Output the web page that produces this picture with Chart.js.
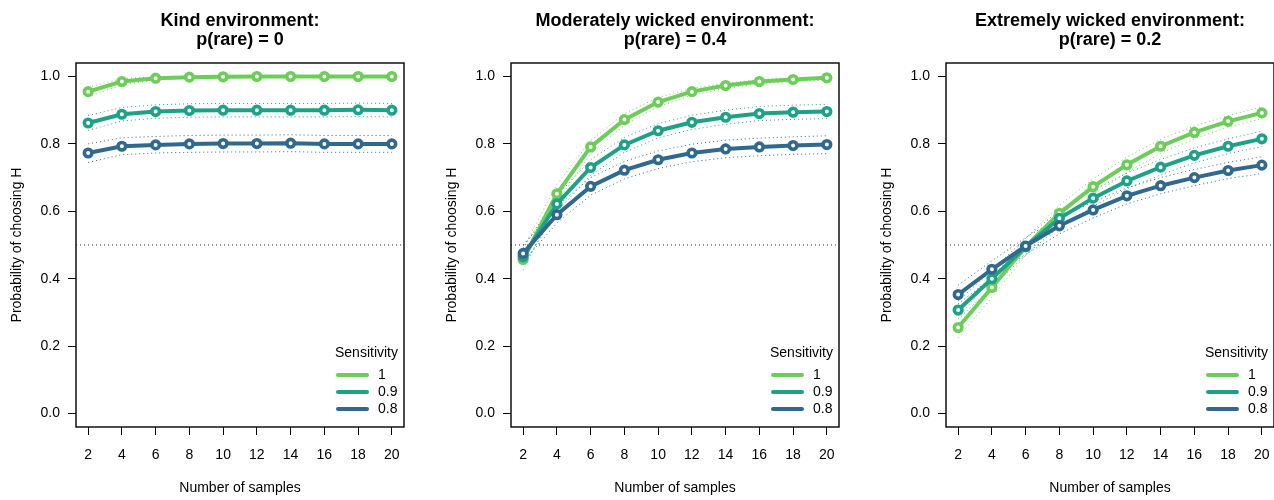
<!DOCTYPE html>
<html>
<head>
<meta charset="utf-8">
<script src="https://cdn.jsdelivr.net/npm/chart.js@4.4.1/dist/chart.umd.min.js"></script>
<style>
  body { margin: 0; background: #fff; width: 1274px; height: 500px; overflow: hidden; position: relative; }
  .panel { position: absolute; top: 0; width: 435px; height: 500px; }
</style>
</head>
<body>
<div class="panel" style="left:0"><canvas id="kindChart" width="435" height="500"></canvas></div>
<div class="panel" style="left:435px"><canvas id="moderateChart" width="435" height="500"></canvas></div>
<div class="panel" style="left:870px"><canvas id="extremeChart" width="435" height="500"></canvas></div>
<script>
const samples = [2, 4, 6, 8, 10, 12, 14, 16, 18, 20];
const xTicks = [2, 4, 6, 8, 10, 12, 14, 16, 18, 20];
const yTicks = [0, 0.2, 0.4, 0.6, 0.8, 1.0];
const sensitivities = ['1', '0.9', '0.8'];
const COLORS = ['#6ccd5a', '#1fa187', '#31688e'];

// Kind environment: p(rare) = 0
const kind1 = [0.955, 0.985, 0.995, 0.998, 0.999, 1.0, 1.0, 1.0, 1.0, 1.0];
const kind1Lo = [0.940, 0.975, 0.990, 0.995, 0.997, 0.998, 0.998, 0.998, 0.998, 0.998];
const kind1Hi = [0.968, 0.994, 0.999, 1.0, 1.0, 1.0, 1.0, 1.0, 1.0, 1.0];
const kind09 = [0.862, 0.888, 0.896, 0.899, 0.900, 0.900, 0.900, 0.900, 0.901, 0.900];
const kind09Lo = [0.840, 0.868, 0.876, 0.879, 0.880, 0.880, 0.880, 0.880, 0.881, 0.880];
const kind09Hi = [0.884, 0.908, 0.916, 0.919, 0.920, 0.920, 0.920, 0.920, 0.921, 0.920];
const kind08 = [0.773, 0.793, 0.797, 0.800, 0.801, 0.801, 0.802, 0.800, 0.800, 0.800];
const kind08Lo = [0.745, 0.768, 0.773, 0.775, 0.776, 0.776, 0.777, 0.775, 0.775, 0.775];
const kind08Hi = [0.800, 0.818, 0.822, 0.825, 0.826, 0.826, 0.827, 0.825, 0.825, 0.825];

// Moderately wicked environment: p(rare) = 0.4
const mod1 = [0.457, 0.652, 0.791, 0.872, 0.924, 0.955, 0.973, 0.985, 0.991, 0.996];
const mod1Lo = [0.425, 0.625, 0.770, 0.855, 0.910, 0.945, 0.965, 0.978, 0.985, 0.990];
const mod1Hi = [0.490, 0.680, 0.810, 0.890, 0.938, 0.965, 0.980, 0.990, 0.996, 0.999];
const mod09 = [0.465, 0.622, 0.730, 0.797, 0.839, 0.864, 0.879, 0.890, 0.894, 0.896];
const mod09Lo = [0.440, 0.598, 0.707, 0.775, 0.818, 0.843, 0.858, 0.869, 0.873, 0.875];
const mod09Hi = [0.490, 0.646, 0.753, 0.819, 0.860, 0.885, 0.900, 0.911, 0.915, 0.917];
const mod08 = [0.475, 0.590, 0.674, 0.722, 0.753, 0.773, 0.785, 0.791, 0.795, 0.798];
const mod08Lo = [0.450, 0.565, 0.648, 0.696, 0.727, 0.747, 0.759, 0.765, 0.769, 0.771];
const mod08Hi = [0.500, 0.615, 0.700, 0.748, 0.779, 0.799, 0.811, 0.817, 0.821, 0.824];

// Extremely wicked environment: p(rare) = 0.2
const ext1 = [0.255, 0.374, 0.495, 0.594, 0.673, 0.738, 0.793, 0.834, 0.867, 0.892];
const ext1Lo = [0.225, 0.345, 0.470, 0.570, 0.650, 0.715, 0.772, 0.815, 0.850, 0.875];
const ext1Hi = [0.285, 0.403, 0.520, 0.618, 0.696, 0.761, 0.814, 0.853, 0.884, 0.910];
const ext09 = [0.307, 0.400, 0.495, 0.579, 0.639, 0.690, 0.731, 0.766, 0.793, 0.815];
const ext09Lo = [0.280, 0.375, 0.470, 0.555, 0.615, 0.667, 0.708, 0.744, 0.771, 0.792];
const ext09Hi = [0.334, 0.425, 0.520, 0.603, 0.663, 0.713, 0.754, 0.788, 0.815, 0.838];
const ext08 = [0.353, 0.428, 0.497, 0.557, 0.604, 0.646, 0.676, 0.700, 0.721, 0.737];
const ext08Lo = [0.325, 0.403, 0.472, 0.533, 0.580, 0.622, 0.652, 0.676, 0.697, 0.712];
const ext08Hi = [0.381, 0.453, 0.522, 0.581, 0.628, 0.670, 0.700, 0.724, 0.745, 0.762];

const FONT = 'Arial, "Liberation Sans", sans-serif';

function toPoints(values) {
  return values.map((v, i) => ({ x: samples[i], y: v }));
}

function meanLine(values, idx) {
  return {
    data: toPoints(values),
    borderColor: COLORS[idx],
    backgroundColor: '#ffffff',
    borderWidth: 4,
    borderCapStyle: 'round',
    pointRadius: 3.8,
    pointBorderWidth: 3.6,
    pointBackgroundColor: '#ffffff',
    pointBorderColor: COLORS[idx],
    tension: 0,
  };
}

function ciLine(values, idx) {
  return {
    data: toPoints(values),
    borderColor: COLORS[idx],
    borderWidth: 1,
    borderDash: [1, 3],
    pointRadius: 0,
    tension: 0,
  };
}

// box around plot, dotted 0.5 line, title, legend
const frame = {
  id: 'frame',
  beforeDatasetsDraw(chart) {
    const { ctx, chartArea: a, scales } = chart;
    const y = scales.y.getPixelForValue(0.5);
    ctx.save();
    ctx.strokeStyle = '#333';
    ctx.lineWidth = 1;
    ctx.setLineDash([1, 3]);
    ctx.beginPath();
    ctx.moveTo(a.left, y);
    ctx.lineTo(a.right, y);
    ctx.stroke();
    ctx.restore();
  },
  afterDraw(chart, args, opts) {
    const { ctx, chartArea: a } = chart;
    ctx.save();
    ctx.strokeStyle = '#000';
    ctx.lineWidth = 1.4;
    ctx.strokeRect(a.left, a.top, a.right - a.left, a.bottom - a.top);

    // title over the plot box
    const cx = (a.left + a.right) / 2;
    ctx.fillStyle = '#000';
    ctx.textAlign = 'center';
    ctx.textBaseline = 'alphabetic';
    ctx.font = 'bold 18px ' + FONT;
    opts.lines.forEach((t, i) => ctx.fillText(t, cx, 26 + i * 19));

    // legend
    const r = a.right, b = a.bottom;
    ctx.font = '14px ' + FONT;
    ctx.textBaseline = 'middle';
    ctx.textAlign = 'right';
    ctx.fillText('Sensitivity', r - 6, b - 74);
    ctx.textAlign = 'left';
    sensitivities.forEach((s, i) => {
      const yy = b - 52 + i * 17;
      ctx.strokeStyle = COLORS[i];
      ctx.lineWidth = 4;
      ctx.lineCap = 'round';
      ctx.beginPath();
      ctx.moveTo(r - 66, yy);
      ctx.lineTo(r - 37, yy);
      ctx.stroke();
      ctx.fillText(s, r - 26, yy);
    });
    ctx.restore();
  }
};

function makeChart(id, titleLines, s1, s1Lo, s1Hi, s09, s09Lo, s09Hi, s08, s08Lo, s08Hi) {
  const ctx = document.getElementById(id).getContext('2d');
  return new Chart(ctx, {
    type: 'line',
    data: {
      datasets: [
        meanLine(s08, 2), meanLine(s09, 1), meanLine(s1, 0),
        ciLine(s08Lo, 2), ciLine(s08Hi, 2),
        ciLine(s09Lo, 1), ciLine(s09Hi, 1),
        ciLine(s1Lo, 0), ciLine(s1Hi, 0),
      ]
    },
    options: {
      responsive: false,
      animation: false,
      layout: { padding: { top: 63, right: 31, bottom: 0, left: 0 } },
      plugins: {
        legend: { display: false },
        tooltip: { enabled: false },
        title: { display: false },
        frame: { lines: titleLines }
      },
      scales: {
        x: {
          type: 'linear',
          min: 1.28,
          max: 20.72,
          afterBuildTicks: s => { s.ticks = xTicks.map(v => ({ value: v })); },
          afterFit: s => { s.height = 73; },
          ticks: { color: '#000', font: { family: FONT, size: 14 }, padding: 12, maxRotation: 0, autoSkip: false },
          grid: { drawOnChartArea: false, drawTicks: true, tickLength: 8, color: '#000', lineWidth: 1 },
          border: { display: false },
          title: {
            display: true,
            text: 'Number of samples',
            color: '#000',
            font: { family: FONT, size: 14, lineHeight: '24px' },
            padding: 0
          }
        },
        y: {
          min: -0.04,
          max: 1.04,
          afterBuildTicks: s => { s.ticks = yTicks.map(v => ({ value: v })); },
          afterFit: s => { s.width = 76; },
          ticks: { color: '#000', font: { family: FONT, size: 14 }, padding: 8, callback: v => v.toFixed(1) },
          grid: { drawOnChartArea: false, drawTicks: true, tickLength: 8, color: '#000', lineWidth: 1 },
          border: { display: false },
          title: {
            display: true,
            text: 'Probability of choosing H',
            color: '#000',
            font: { family: FONT, size: 14, lineHeight: '34px' },
            padding: 0
          }
        }
      }
    },
    plugins: [frame]
  });
}

makeChart('kindChart', ['Kind environment:', 'p(rare) = 0'],
  kind1, kind1Lo, kind1Hi, kind09, kind09Lo, kind09Hi, kind08, kind08Lo, kind08Hi);
makeChart('moderateChart', ['Moderately wicked environment:', 'p(rare) = 0.4'],
  mod1, mod1Lo, mod1Hi, mod09, mod09Lo, mod09Hi, mod08, mod08Lo, mod08Hi);
makeChart('extremeChart', ['Extremely wicked environment:', 'p(rare) = 0.2'],
  ext1, ext1Lo, ext1Hi, ext09, ext09Lo, ext09Hi, ext08, ext08Lo, ext08Hi);
</script>
</body>
</html>
